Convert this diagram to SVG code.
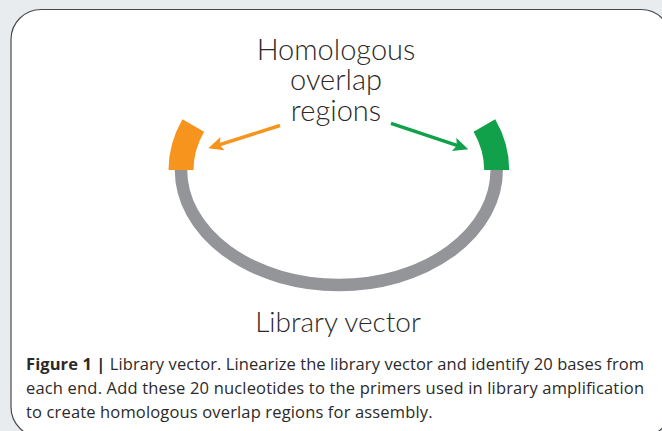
<svg xmlns="http://www.w3.org/2000/svg" width="662" height="431" viewBox="0 0 662 431">
  <style>
    .lbl { font-family: Lato, "Open Sans", "Liberation Sans", sans-serif; font-weight: 300; fill: #2b2a29; text-anchor: middle; }
    .cap { font-family: "Open Sans", Lato, "Liberation Sans", sans-serif; font-weight: 400; font-size: 16.5px; fill: #2b2a29; }
    .capb { font-weight: 700; }
    .conn { fill: none; stroke-width: 3.5; stroke-linecap: butt; }
  </style>
  <defs>
    <marker id="headO" markerUnits="userSpaceOnUse" viewBox="0 0 15 14" markerWidth="15" markerHeight="14" refX="7" refY="7" orient="auto">
      <path d="M0,0 L15,7 L0,14 L3,7 Z" fill="#F7941D"/>
    </marker>
    <marker id="headG" markerUnits="userSpaceOnUse" viewBox="0 0 15 14" markerWidth="15" markerHeight="14" refX="7" refY="7" orient="auto">
      <path d="M0,0 L15,7 L0,14 L3,7 Z" fill="#10A14A"/>
    </marker>
  </defs>

  <rect x="0" y="0" width="662" height="431" fill="#E9ECEF"/>
  <g id="frame">
    <rect x="11" y="9.5" width="660" height="427.5" rx="30" ry="30" fill="#FFFFFF" stroke="#4a4a4a" stroke-width="1.2"/>
  </g>

  <g id="library-vector">
    <path d="M181,170 A157.85,115 0 0 0 496.7,170" fill="none" stroke="#939598" stroke-width="12.5"/>
  </g>
  <g id="overlap-left">
    <path d="M181,170 A157.85,115 0 0 1 193.3,125.4" fill="none" stroke="#F7941D" stroke-width="25"/>
  </g>
  <g id="overlap-right">
    <path d="M496.7,170 A157.85,115 0 0 0 484.4,125.4" fill="none" stroke="#10A14A" stroke-width="25"/>
  </g>

  <g id="label-homologous">
    <text class="lbl" font-size="29" x="336" y="60">Homologous</text>
    <text class="lbl" font-size="29" x="336" y="90">overlap</text>
    <text class="lbl" font-size="29" x="336" y="120.5">regions</text>
  </g>

  <g id="connectors">
    <line class="conn" x1="280" y1="125.5" x2="215.9" y2="145.9" stroke="#F7941D" marker-end="url(#headO)"/>
    <line class="conn" x1="391" y1="123.3" x2="460.7" y2="146.7" stroke="#10A14A" marker-end="url(#headG)"/>
  </g>

  <g id="label-library">
    <text class="lbl" font-size="28" x="338" y="332">Library vector</text>
  </g>

  <g id="caption">
    <text class="cap" x="26" y="369.5" textLength="618" lengthAdjust="spacing"><tspan class="capb">Figure 1 |</tspan> Library vector. Linearize the library vector and identify 20 bases from</text>
    <text class="cap" x="26" y="393.5" textLength="618" lengthAdjust="spacing">each end. Add these 20 nucleotides to the primers used in library amplification</text>
    <text class="cap" x="26" y="417.5" textLength="406.5" lengthAdjust="spacing">to create homologous overlap regions for assembly.</text>
  </g>
</svg>
